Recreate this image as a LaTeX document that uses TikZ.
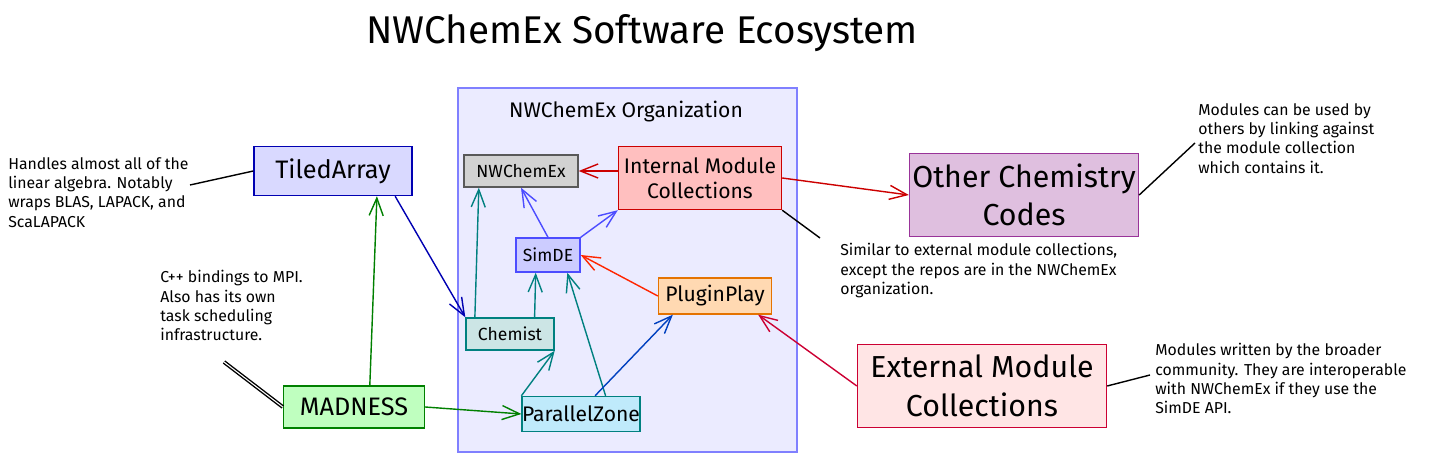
\documentclass[tikz,border=0pt]{standalone}
\usepackage{fontspec}
\setmainfont{Fira Sans}
\usetikzlibrary{positioning,arrows.meta}

\tikzset{
  box/.style={draw, thick, rectangle, inner sep=0pt, font=\Large},
  note/.style={align=left, anchor=north west, font=\small, inner sep=0pt},
  arr/.style={thick, -{Straight Barb[length=10pt,width=8pt]}}
}

\begin{document}
\begin{tikzpicture}[x=0.02cm, y=-0.02cm]
\useasboundingbox (0,0) rectangle (1429,462);

\node (title) at (642,33) {\fontsize{22}{26}\selectfont NWChemEx Software Ecosystem};

\draw[thick, draw=blue!50, fill=blue!8] (458,88) rectangle (797,452);
\node (org) at (626,112) {\large NWChemEx Organization};

\node[box, draw=gray!70!black, fill=gray!35, minimum width=2.28cm, minimum height=0.64cm, font=\normalsize] (nwc) at (521,171) {NWChemEx};
\node[box, draw=red!80!black, fill=red!25, minimum width=3.26cm, minimum height=1.26cm, align=center, font=\large] (imc) at (700,178) {Internal Module\\Collections};
\node[box, draw=blue!70, fill=blue!20, minimum width=1.28cm, minimum height=0.68cm, font=\normalsize] (simde) at (548,255) {SimDE};
\node[box, draw=orange!90!black, fill=orange!30, minimum width=2.26cm, minimum height=0.72cm, font=\large] (pp) at (715,296) {PluginPlay};
\node[box, draw=teal, fill=teal!20, minimum width=1.76cm, minimum height=0.64cm, font=\normalsize] (chem) at (510,334) {Chemist};
\node[box, draw=teal, fill=cyan!25, minimum width=2.2cm, minimum height=0.7cm, font=\large] (pz) at (581,414) {ParallelZone};
\node[box, draw=blue!70!black, fill=blue!15, minimum width=3.16cm, minimum height=0.98cm] (ta) at (333,171) {TiledArray};
\node[box, draw=green!50!black, fill=green!25, minimum width=2.82cm, minimum height=0.84cm] (mad) at (354,407) {MADNESS};
\node[box, draw=violet!80, fill=violet!25, minimum width=4.58cm, minimum height=1.66cm, align=center, font=\LARGE] (occ) at (1024,195) {Other Chemistry\\Codes};
\node[box, draw=purple!80!red, fill=pink!40, minimum width=4.98cm, minimum height=1.66cm, align=center, font=\LARGE] (emc) at (982,386) {External Module\\Collections};

\node[note] (n1) at (8,157) {Handles almost all of the\\linear algebra. Notably\\wraps BLAS, LAPACK, and\\ScaLAPACK};
\node[note] (n2) at (160,270) {C++ bindings to MPI.\\Also has its own\\task scheduling\\infrastructure.};
\node[note] (n3) at (840,243) {Similar to external module collections,\\except the repos are in the NWChemEx\\organization.};
\node[note] (n4) at (1198,103) {Modules can be used by\\others by linking against\\the module collection\\which contains it.};
\node[note] (n5) at (1155,343) {Modules written by the broader\\community. They are interoperable\\with NWChemEx if they use the\\SimDE API.};

\coordinate (c1) at (190,185);
\coordinate (c2) at (224,362);
\coordinate (c3) at (820,238);
\coordinate (c4) at (1195,143);
\coordinate (c5) at (1150,375);

% shifts are in pt (1px = 0.567pt)
\draw[arr, red!80!black] (imc.west |- nwc.east) -- (nwc.east);
\draw[arr, red!80!black] (imc.east) -- (occ.west);
\draw[arr, blue!70] (simde.north) -- (nwc.south);
\draw[arr, blue!70] (simde.north east) -- (imc.south west);
\draw[arr, red!70!orange] (pp.west) -- (simde.east);
\draw[arr, teal] ([xshift=-20pt]chem.north) -- ([xshift=-24pt]nwc.south);
\draw[arr, teal] ([xshift=14pt]chem.north) -- ([xshift=-7pt]simde.south);
\draw[arr, teal] (pz.north west) -- (chem.south east);
\draw[arr, teal] ([xshift=14pt]pz.north) -- ([xshift=11pt]simde.south);
\draw[arr, blue!50!teal] ([xshift=8pt]pz.north) -- ([xshift=-24pt]pp.south);
\draw[arr, green!50!black] ([xshift=9pt]mad.north) -- ([xshift=25pt]ta.south);
\draw[arr, green!50!black] (mad.east) -- (pz.west);
\draw[arr, blue!70!black] ([xshift=-10pt]ta.south east) -- (chem.north west);
\draw[arr, purple!80!red] (emc.west) -- ([xshift=-8pt]pp.south east);
\draw[thick] (c1) -- (ta.west);
\draw[thick, double] (c2) -- (mad.west);
\draw[thick] (imc.south east) -- (c3);
\draw[thick] (occ.east) -- (c4);
\draw[thick] (emc.east) -- (c5);
\end{tikzpicture}
\end{document}
